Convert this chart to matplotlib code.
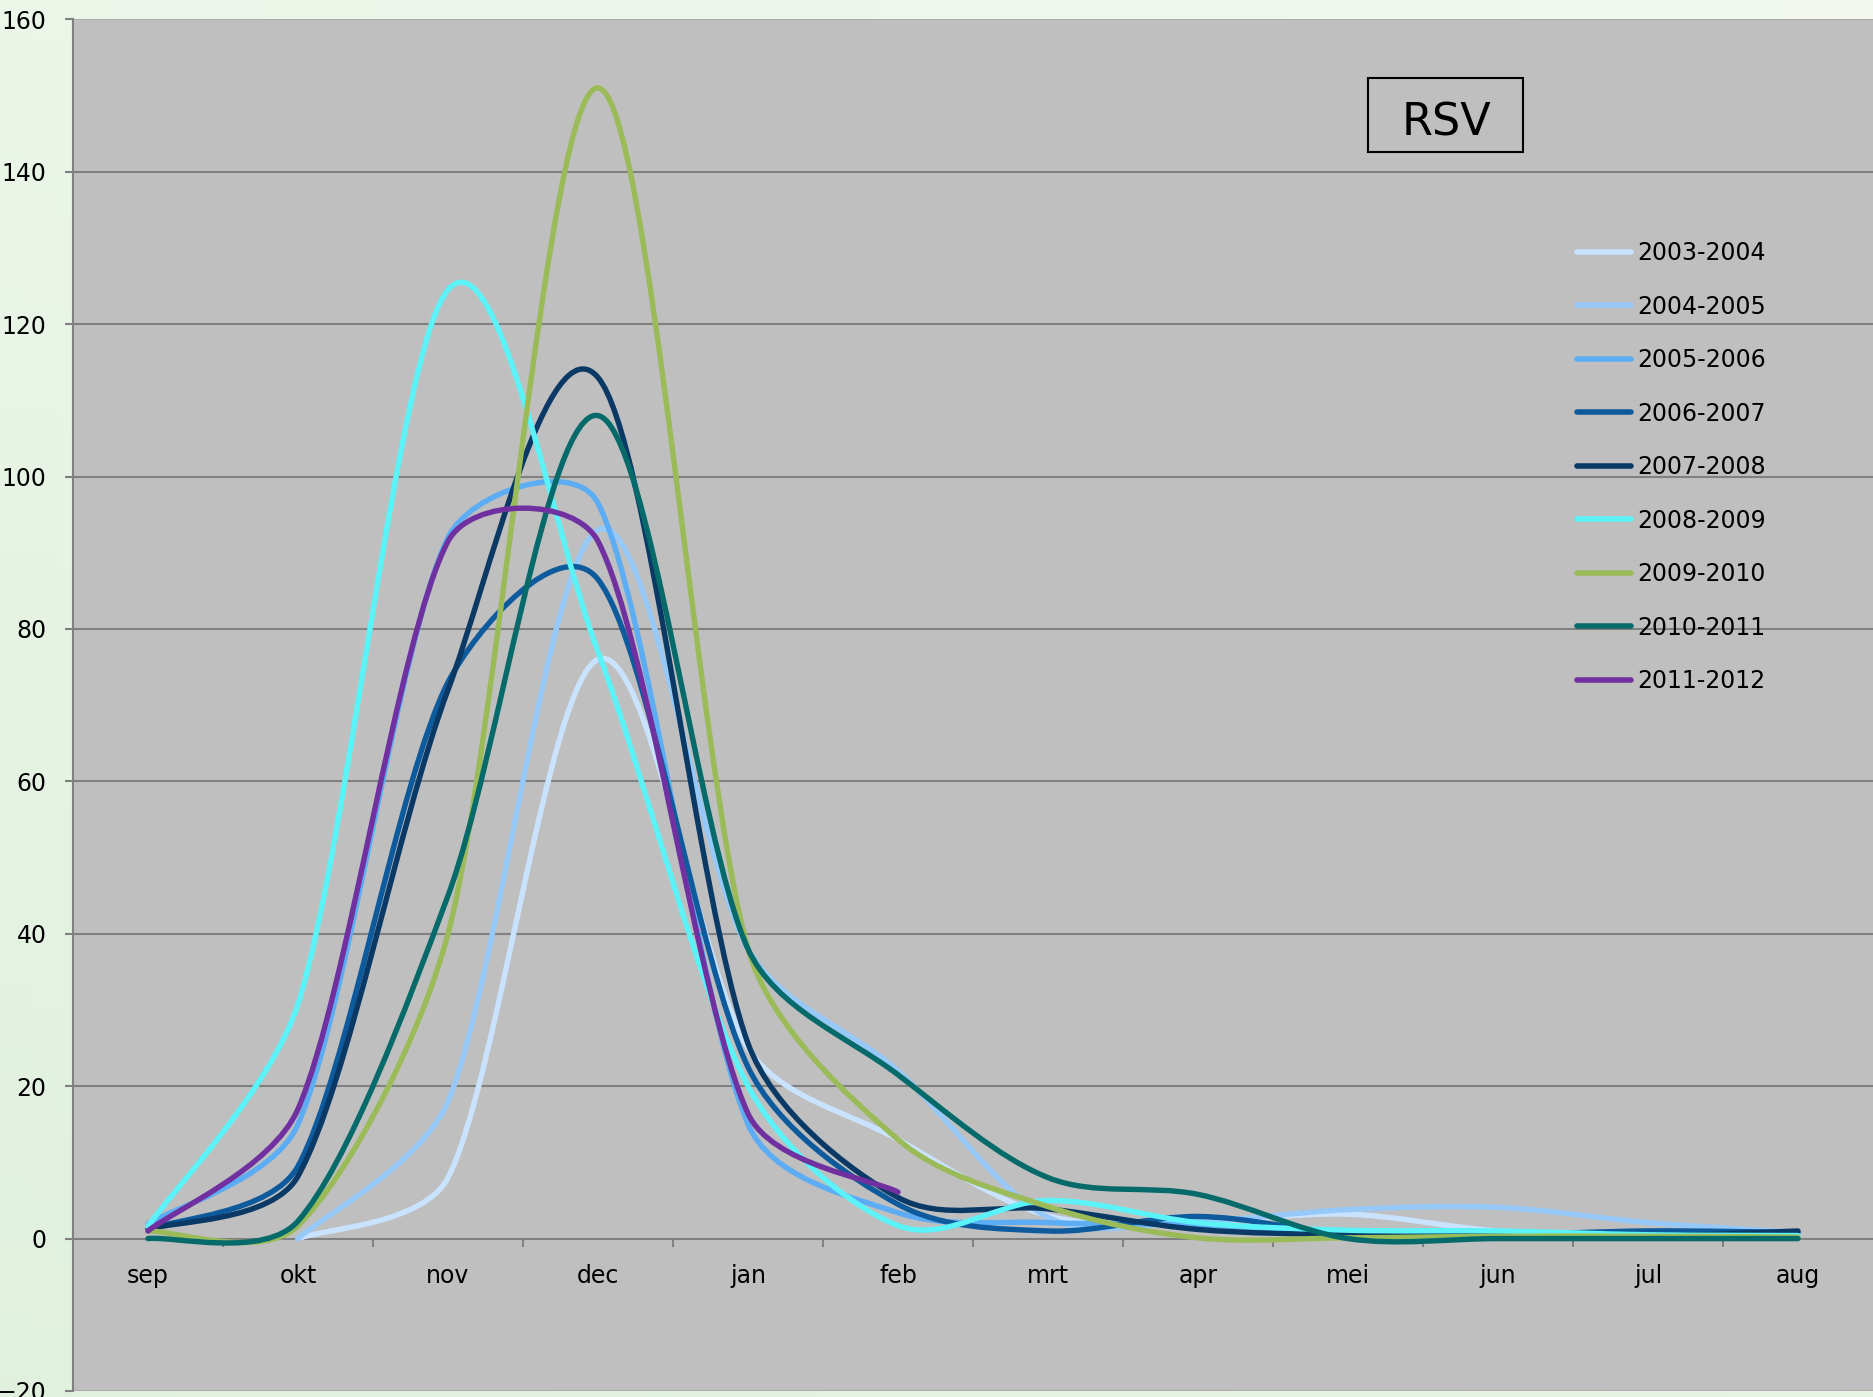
import numpy as np
import matplotlib
matplotlib.use('Agg')
import matplotlib.pyplot as plt
from matplotlib.path import Path
from matplotlib.patches import PathPatch, Rectangle
from matplotlib.lines import Line2D
from matplotlib.ticker import FixedLocator

nan = np.nan
months = ['sep', 'okt', 'nov', 'dec', 'jan', 'feb', 'mrt', 'apr', 'mei', 'jun', 'jul', 'aug']
seasons = ['2003-2004', '2004-2005', '2005-2006', '2006-2007', '2007-2008',
           '2008-2009', '2009-2010', '2010-2011', '2011-2012']

s_2003_2004 = [nan, 0, 8, 76, 25, 13, 3.0, 2.3, 3.2, 1.0, 0.5, 0.4]
s_2004_2005 = [nan, 0, 18, 93, 38, 22, 2.8, 2.3, 3.8, 4.1, 2.1, 0.8]
s_2005_2006 = [1.9, 15, 92, 96.5, 15, 3.4, 2.1, 1.8, 0.8, 0.5, 0.3, 0.2]
s_2006_2007 = [1.2, 9.5, 73, 86.5, 22.5, 4.5, 1.0, 2.9, 0.6, 0.5, 1.0, 0.8]
s_2007_2008 = [1.2, 8.2, 72, 113, 25.6, 5.4, 3.9, 1.2, 0.5, 0.3, 0.3, 1.0]
s_2008_2009 = [1.6, 30.8, 124.5, 77, 20, 1.7, 5.0, 2.1, 1.1, 1.0, 0.5, 0.4]
s_2009_2010 = [1.0, 1.7, 40, 151, 38, 13, 4.2, 0.1, 0.1, 0.3, 0.3, 0.2]
s_2010_2011 = [0.0, 2.3, 45, 108, 38, 21.5, 8.0, 5.8, 0.0, 0.0, 0.0, 0.0]
s_2011_2012 = [1.0, 17, 91.5, 91.5, 16.4, 6.1, nan, nan, nan, nan, nan, nan]

series = [s_2003_2004, s_2004_2005, s_2005_2006, s_2006_2007, s_2007_2008,
          s_2008_2009, s_2009_2010, s_2010_2011, s_2011_2012]
colors = ['#C9E3FF', '#97C9F8', '#5CADF4', '#0D5A9C', '#0A3966',
          '#5BF2F8', '#9BBB59', '#066A6A', '#7030A0']

W, H = 1873, 1397
fig = plt.figure(figsize=(W / 100, H / 100), dpi=100)

# background gradient
bg = fig.add_axes([0, 0, 1, 1], zorder=-10)
gx, gy = np.meshgrid(np.linspace(0, 1, 64), np.linspace(0, 1, 64))
t = np.clip(0.6 * gy + 0.4 * (1 - gx), 0, 1)[..., None]
top = np.array([0.95, 0.975, 0.94])
bot = np.array([0.88, 0.945, 0.87])
img = top * (1 - t) + bot * t
bg.imshow(img, aspect='auto', extent=[0, 1, 0, 1], origin='upper')
bg.axis('off')

left = 73 / W
bottom = 1 - 1391 / H
topy = 1 - 19.3 / H
ax = fig.add_axes([left, bottom, 1 - left, topy - bottom])
ax.set_facecolor('#BFBFBF')
ax.set_xlim(-0.5, 11.5)
ax.set_ylim(-20, 160)

for s in ['top', 'right']:
    ax.spines[s].set_visible(False)
ax.spines['left'].set_color('#808080')
ax.spines['left'].set_linewidth(1.5)
ax.spines['bottom'].set_position(('data', 0))
ax.spines['bottom'].set_color('#808080')
ax.spines['bottom'].set_linewidth(1.5)

ax.axhline(160, color='#A6A6A6', lw=1.2, zorder=1)
ax.axhline(-20, color='#A6A6A6', lw=1.2, zorder=1)
for yv in range(20, 160, 20):
    ax.axhline(yv, color='#808080', lw=1.5, zorder=1)

ax.yaxis.set_major_locator(FixedLocator(list(range(-20, 161, 20))))
ax.tick_params(axis='y', direction='out', length=6, width=1.5, color='#808080',
               labelsize=17, pad=13)
ax.set_xticks(range(12))
ax.set_xticklabels(months)
ax.xaxis.set_minor_locator(FixedLocator([i + 0.5 for i in range(11)]))
ax.tick_params(axis='x', which='major', length=0, labelsize=17, pad=18)
ax.tick_params(axis='x', which='minor', direction='out', length=6, width=1.5,
               color='#808080')

fig.canvas.draw()


def smooth_path(ax, xs, ys, cap=1 / 3):
    pts = ax.transData.transform(np.column_stack([xs, ys]))
    n = len(pts)
    verts = [pts[0]]
    codes = [Path.MOVETO]

    def arm(pa, pb, seg):
        a = (pb - pa) / 6.0
        L = np.hypot(*a)
        lim = cap * seg
        if L > lim and L > 0:
            a = a * (lim / L)
        return a

    for i in range(n - 1):
        p0 = pts[i - 1] if i > 0 else pts[i]
        p1 = pts[i]
        p2 = pts[i + 1]
        p3 = pts[i + 2] if i + 2 < n else pts[i + 1]
        d12 = np.hypot(*(p2 - p1))
        c1 = p1 + arm(p0, p2, d12)
        c2 = p2 - arm(p1, p3, d12)
        verts += [c1, c2, p2]
        codes += [Path.CURVE4] * 3
    vd = ax.transData.inverted().transform(np.array(verts))
    return Path(vd, codes)


handles = []
x_all = np.arange(len(months))
for name, vals, col in zip(seasons, series, colors):
    v = np.array(vals, dtype=float)
    m = ~np.isnan(v)
    path = smooth_path(ax, x_all[m], v[m])
    patch = PathPatch(path, fill=False, edgecolor=col, lw=3.9, capstyle='round',
                      joinstyle='round', transform=ax.transData, zorder=3)
    ax.add_patch(patch)
    handles.append(Line2D([], [], color=col, lw=4, solid_capstyle='round'))

leg = fig.legend(handles, seasons, loc='upper left',
                 bbox_to_anchor=(1577 / W, 1 - 241 / H), frameon=False,
                 fontsize=17, handlelength=2.3, handletextpad=0.25,
                 labelspacing=1.25, borderpad=0, borderaxespad=0)

fig.patches.append(Rectangle((1368 / W, 1 - 152 / H), 155 / W, 74 / H,
                             transform=fig.transFigure, fill=False,
                             edgecolor='black', lw=1.5, zorder=5))
fig.text(1446 / W, 1 - 136 / H, 'RSV', fontsize=32, ha='center', va='baseline')

fig.savefig('out.png', dpi=100)
